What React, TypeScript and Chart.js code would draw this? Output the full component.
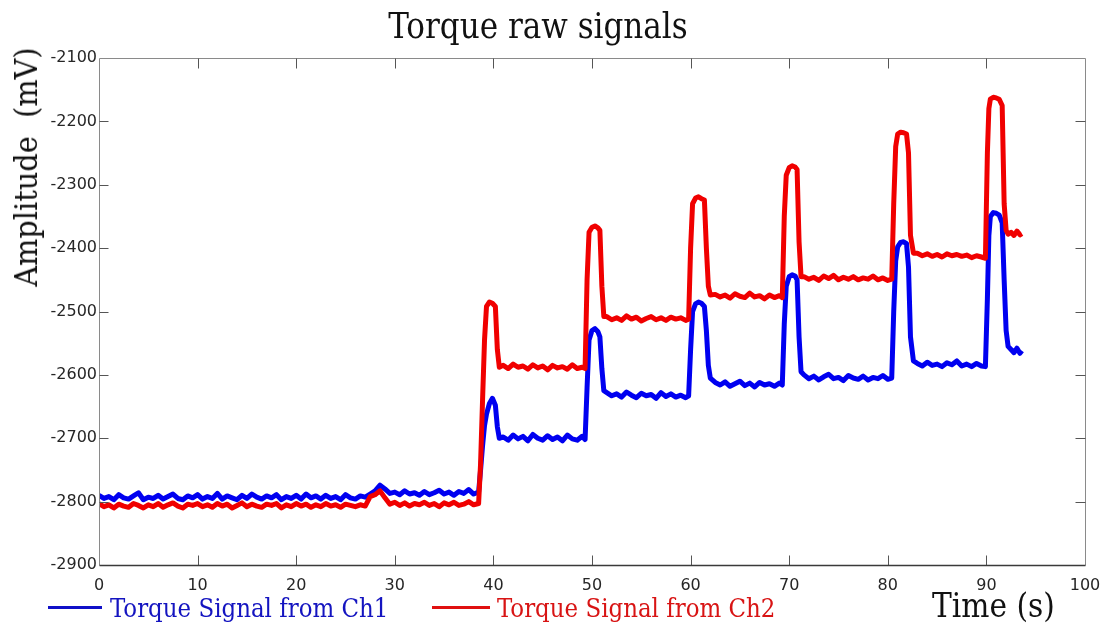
import React, { useEffect, useRef } from "react";
import { Chart, registerables } from "chart.js";

Chart.register(...registerables);

// ---------- DATA ----------
const chartTitle = "Torque raw signals";
const xTitle = "Time (s)";
const yTitle = "Amplitude  (mV)";
const seriesNames = ["Torque Signal from Ch1", "Torque Signal from Ch2"];

const xTickValues = [0, 10, 20, 30, 40, 50, 60, 70, 80, 90, 100];
const yTickValues = [-2900, -2800, -2700, -2600, -2500, -2400, -2300, -2200, -2100];

// time (s)
const timeS = [
  0, 0.5, 1, 1.5, 2, 2.5, 3, 3.5, 4, 4.5, 5,
  5.5, 6, 6.5, 7, 7.5, 8, 8.5, 9, 9.5, 10, 10.5,
  11, 11.5, 12, 12.5, 13, 13.5, 14, 14.5, 15, 15.5, 16,
  16.5, 17, 17.5, 18, 18.5, 19, 19.5, 20, 20.5, 21, 21.5,
  22, 22.5, 23, 23.5, 24, 24.5, 25, 25.5, 26, 26.5, 27,
  27.5, 28, 28.5, 29, 29.5, 30, 30.5, 31, 31.5, 32, 32.5,
  33, 33.5, 34, 34.5, 35, 35.5, 36, 36.5, 37, 37.5, 38, 38.5,
  38.7, 38.9, 39.1, 39.3, 39.6, 39.9, 40.2, 40.4, 40.6,
  41, 41.5, 42, 42.5, 43, 43.5, 44, 44.5, 45, 45.5, 46, 46.5, 47, 47.5, 48, 48.5, 49, 49.3,
  49.5, 49.7, 50, 50.3, 50.6, 50.8, 51, 51.2,
  51.5, 52, 52.5, 53, 53.5, 54, 54.5, 55, 55.5, 56, 56.5, 57, 57.5, 58, 58.5, 59, 59.5, 59.8,
  60, 60.2, 60.5, 60.8, 61.1, 61.4, 61.6, 61.8, 62,
  62.5, 63, 63.5, 64, 64.5, 65, 65.5, 66, 66.5, 67, 67.5, 68, 68.5, 69, 69.3,
  69.5, 69.7, 70, 70.3, 70.6, 70.8, 71, 71.2,
  71.5, 72, 72.5, 73, 73.5, 74, 74.5, 75, 75.5, 76, 76.5, 77, 77.5, 78, 78.5, 79, 79.5, 80, 80.4,
  80.6, 80.8, 81, 81.3, 81.6, 81.9, 82.1, 82.3, 82.6,
  83, 83.5, 84, 84.5, 85, 85.5, 86, 86.5, 87, 87.5, 88, 88.5, 89, 89.5, 89.9,
  90.1, 90.25, 90.4, 90.7, 91, 91.3, 91.6, 91.8, 92, 92.2,
  92.5, 92.8, 93.1, 93.4, 93.6,
];

// Ch1 amplitude (mV)
const ch1 = [
  -2790, -2795, -2792, -2797, -2789, -2794, -2796, -2791, -2786, -2797, -2793,
  -2795, -2790, -2796, -2792, -2788, -2795, -2797, -2791, -2794, -2789, -2796,
  -2792, -2795, -2787, -2796, -2791, -2794, -2797, -2790, -2795, -2788, -2793,
  -2796, -2791, -2794, -2789, -2797, -2792, -2795, -2790, -2796, -2788, -2794,
  -2791, -2796, -2790, -2795, -2792, -2797, -2789, -2794, -2796, -2791, -2793,
  -2788, -2783, -2774, -2780, -2787, -2785, -2789, -2783, -2788, -2786, -2790,
  -2784, -2789, -2786, -2782, -2788, -2785, -2790, -2784, -2787, -2781, -2788, -2785,
  -2750, -2712, -2680, -2662, -2645, -2637, -2648, -2682, -2700,
  -2698, -2703, -2695, -2701, -2697, -2704, -2694, -2700, -2703, -2696, -2702, -2698, -2704, -2695, -2701, -2703, -2697, -2702,
  -2620, -2545, -2530, -2527, -2532, -2540, -2590, -2625,
  -2628, -2633, -2630, -2635, -2627, -2632, -2636, -2629, -2633, -2631, -2637, -2628, -2634, -2630, -2635, -2632, -2636, -2633,
  -2560, -2500, -2488, -2485, -2487, -2492, -2530, -2585, -2605,
  -2612, -2616, -2611, -2618, -2614, -2610, -2617, -2613, -2619, -2612, -2616, -2614, -2618, -2613, -2616,
  -2520, -2460, -2445, -2442, -2444, -2450, -2540, -2595,
  -2600, -2606, -2602, -2608, -2603, -2599, -2606, -2604, -2609, -2601, -2605, -2607, -2602, -2608, -2604, -2606, -2601, -2607, -2605,
  -2500, -2420, -2398, -2391, -2390, -2393, -2430, -2540, -2578,
  -2582, -2586, -2580, -2585, -2583, -2587, -2581, -2584, -2578, -2586, -2583, -2587, -2582, -2586, -2587,
  -2480, -2380, -2350, -2344, -2345, -2348, -2360, -2450, -2530, -2555,
  -2560, -2565, -2558, -2566, -2562,
];

// Ch2 amplitude (mV)
const ch2 = [
  -2803, -2808, -2805, -2810, -2804, -2807, -2809, -2803, -2806, -2810, -2805,
  -2808, -2803, -2809, -2805, -2802, -2807, -2810, -2804, -2806, -2803, -2808,
  -2805, -2809, -2803, -2807, -2804, -2810, -2806, -2802, -2808, -2804, -2807,
  -2809, -2804, -2806, -2803, -2810, -2805, -2808, -2803, -2807, -2804, -2809,
  -2805, -2808, -2803, -2807, -2805, -2809, -2804, -2806, -2808, -2805, -2807,
  -2792, -2789, -2783, -2794, -2804, -2801, -2806, -2802, -2807, -2803, -2805,
  -2801, -2806, -2803, -2808, -2802, -2805, -2801, -2806, -2804, -2800, -2805, -2803,
  -2740, -2640, -2545, -2492, -2485, -2487, -2492, -2560, -2588,
  -2585, -2590, -2583, -2588, -2586, -2591, -2584, -2589, -2586, -2592, -2585, -2589, -2587, -2591, -2584, -2590, -2588, -2590,
  -2450, -2375, -2367, -2365, -2368, -2372, -2460, -2508,
  -2508, -2513, -2510, -2514, -2507, -2512, -2509, -2515, -2511, -2508, -2513, -2510, -2514, -2509, -2512, -2510, -2514, -2512,
  -2400, -2330, -2321, -2319, -2322, -2324, -2400, -2460, -2474,
  -2473, -2477, -2474, -2479, -2472, -2476, -2478, -2471, -2477, -2475, -2480, -2474, -2478, -2475, -2478,
  -2350, -2285, -2273, -2270, -2272, -2276, -2390, -2445,
  -2445, -2449, -2446, -2451, -2444, -2448, -2443, -2450, -2446, -2449, -2445, -2450, -2447, -2449, -2444, -2450, -2447, -2451, -2449,
  -2330, -2240, -2220, -2217, -2218, -2220, -2250, -2380, -2408,
  -2408, -2412, -2409, -2413, -2410, -2414, -2409, -2412, -2410, -2413, -2411, -2415, -2412, -2414, -2416,
  -2250, -2180, -2165, -2162, -2163, -2165, -2175, -2330, -2372, -2378,
  -2375, -2380, -2373, -2379, -2377,
];

// ---------- STYLE ----------
const W = 1114;
const H = 623;
const BLUE = "#0000f0";
const RED = "#f00000";
const SERIF = "'DejaVu Serif Condensed', 'Liberation Serif', serif";
const SANS = "'DejaVu Sans', sans-serif";

const framePlugin = {
  id: "frame",
  afterDatasetsDraw(chart: any) {
    const { ctx, chartArea, scales } = chart;
    const { left, right, top, bottom } = chartArea;
    const xs = scales.x;
    const ys = scales.y;
    const L = Math.round(left) + 0.5;
    const R = Math.round(right) + 0.5;
    const T = Math.round(top) + 0.5;
    const B = Math.round(bottom) + 0.5;
    ctx.save();
    ctx.lineWidth = 1;
    ctx.strokeStyle = "#8a8a8a";
    ctx.beginPath();
    ctx.moveTo(L, B);
    ctx.lineTo(L, T);
    ctx.lineTo(R, T);
    ctx.lineTo(R, B);
    ctx.stroke();
    ctx.strokeStyle = "#555";
    ctx.beginPath();
    xs.ticks.forEach((t: any) => {
      const px = Math.round(xs.getPixelForValue(t.value)) + 0.5;
      if (t.value > xs.min && t.value < xs.max) {
        ctx.moveTo(px, T);
        ctx.lineTo(px, T + 10);
        ctx.moveTo(px, B);
        ctx.lineTo(px, B - 10);
      }
    });
    ys.ticks.forEach((t: any) => {
      const py = Math.round(ys.getPixelForValue(t.value)) + 0.5;
      if (t.value > ys.min && t.value < ys.max) {
        ctx.moveTo(L, py);
        ctx.lineTo(L + 9, py);
        ctx.moveTo(R, py);
        ctx.lineTo(R - 10, py);
      }
    });
    ctx.stroke();
    ctx.strokeStyle = "#3a3a3a";
    ctx.lineWidth = 1.5;
    ctx.beginPath();
    ctx.moveTo(L, B);
    ctx.lineTo(R, B);
    ctx.stroke();
    ctx.restore();
  },
};

export default function App() {
  const ref = useRef<HTMLCanvasElement | null>(null);

  useEffect(() => {
    document.body.style.margin = "0";
    const canvas = ref.current;
    if (!canvas) return;
    const chart = new Chart(canvas, {
      type: "line",
      data: {
        datasets: [
          {
            label: seriesNames[0],
            data: timeS.map((t, i) => ({ x: t, y: ch1[i] })),
            borderColor: BLUE,
            backgroundColor: BLUE,
            borderWidth: 5,
            pointRadius: 0,
            tension: 0,
            borderJoinStyle: "round",
            order: 1,
          },
          {
            label: seriesNames[1],
            data: timeS.map((t, i) => ({ x: t, y: ch2[i] })),
            borderColor: RED,
            backgroundColor: RED,
            borderWidth: 5,
            pointRadius: 0,
            tension: 0,
            borderJoinStyle: "round",
            order: 0,
          },
        ],
      },
      options: {
        animation: false,
        responsive: false,
        devicePixelRatio: 1,
        layout: { padding: { left: 39, right: 29, top: 58, bottom: 28 } },
        plugins: {
          legend: { display: false },
          title: { display: false },
          tooltip: { enabled: false },
        },
        events: [],
        scales: {
          x: {
            type: "linear",
            min: 0,
            max: 100,
            afterBuildTicks: (s: any) => {
              s.ticks = xTickValues.map((v) => ({ value: v }));
            },
            afterFit: (s: any) => {
              s.height = 30;
            },
            grid: { display: false, drawTicks: false },
            border: { display: false },
            ticks: {
              padding: 11,
              color: "#262626",
              font: { family: SANS, size: 16 },
              maxRotation: 0,
              autoSkip: false,
              callback: (v: any) => String(v),
            },
          },
          y: {
            type: "linear",
            min: -2900,
            max: -2100,
            afterBuildTicks: (s: any) => {
              s.ticks = yTickValues.map((v) => ({ value: v }));
            },
            afterFit: (s: any) => {
              s.width = 60;
            },
            grid: { display: false, drawTicks: false },
            border: { display: false },
            ticks: {
              padding: 2,
              color: "#262626",
              font: { family: SANS, size: 16 },
              autoSkip: false,
              callback: (v: any) => String(v),
            },
          },
        },
      },
      plugins: [framePlugin],
    });
    return () => chart.destroy();
  }, []);

  const baseText: React.CSSProperties = {
    position: "absolute",
    fontFamily: SERIF,
    lineHeight: 1,
    whiteSpace: "pre",
    margin: 0,
  };

  return (
    <div style={{ position: "relative", width: W, height: H, background: "#fff", overflow: "hidden" }}>
      <canvas ref={ref} width={W} height={H} style={{ position: "absolute", left: 0, top: 0, width: W, height: H }} />
      <div style={{ ...baseText, fontSize: 34.5, left: 538, top: 9, transform: "translateX(-50%)", color: "#111" }}>
        {chartTitle}
      </div>
      <div
        style={{
          ...baseText,
          fontSize: 32,
          left: 26,
          top: 167,
          transform: "translate(-50%, -50%) rotate(-90deg)",
          color: "#111",
        }}
      >
        {yTitle}
      </div>
      <div style={{ ...baseText, fontSize: 33, left: 932, top: 589, color: "#111" }}>{xTitle}</div>
      <div style={{ position: "absolute", left: 48, top: 606, width: 54, height: 3, background: "#1010c8" }} />
      <div style={{ ...baseText, fontSize: 25.5, left: 110, top: 595.5, color: "#1414c0" }}>{seriesNames[0]}</div>
      <div style={{ position: "absolute", left: 432, top: 606, width: 58, height: 3, background: "#e01010" }} />
      <div style={{ ...baseText, fontSize: 25.5, left: 497, top: 595.5, color: "#d81414" }}>{seriesNames[1]}</div>
    </div>
  );
}
